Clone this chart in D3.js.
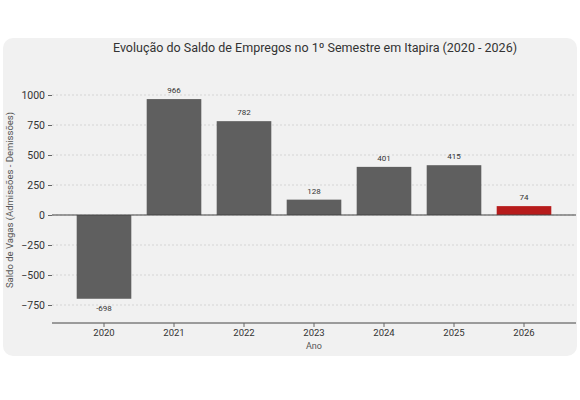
<!DOCTYPE html>
<html><head><meta charset="utf-8">
<script src="https://cdn.jsdelivr.net/npm/d3@7"></script>
<style>body{margin:0;background:#fff}svg{display:block}text{font-family:Roboto,sans-serif}</style>
</head><body><svg width="580" height="400"></svg>
<script>
const years = ["2020","2021","2022","2023","2024","2025","2026"];
const saldo = [-698, 966, 782, 128, 401, 415, 74];
const yTicks = [1000, 750, 500, 250, 0, -250, -500, -750];
const highlightYear = "2026";

const svg = d3.select("svg");
svg.append("rect").attr("x",3).attr("y",38).attr("width",574).attr("height",318).attr("rx",10).attr("fill","#f1f1f1");
const x = d3.scaleBand().domain(years).range([69,559]).paddingInner(0.22).paddingOuter(0.11);
const y = d3.scaleLinear().domain([-750,1000]).range([305,95]);
const L = 52, R = 576;
svg.append("g").selectAll("line").data(yTicks).join("line")
  .attr("x1",L).attr("x2",R).attr("y1",d=>y(d)).attr("y2",d=>y(d))
  .attr("stroke","#cfcfcf").attr("stroke-width",0.8).attr("stroke-dasharray","2,2");
svg.append("g").selectAll("rect").data(years).join("rect")
  .attr("x",d=>x(d)).attr("width",x.bandwidth())
  .attr("y",(d,i)=>y(Math.max(0,saldo[i]))).attr("height",(d,i)=>Math.abs(y(saldo[i])-y(0)))
  .attr("fill",d=>d===highlightYear?"#b71c1c":"#5f5f5f");
svg.append("line").attr("x1",L).attr("x2",R).attr("y1",y(0)).attr("y2",y(0)).attr("stroke","#444").attr("stroke-width",1.2);
svg.append("g").selectAll("text").data(years).join("text")
  .attr("x",d=>x(d)+x.bandwidth()/2)
  .attr("y",(d,i)=>saldo[i]>=0?y(saldo[i])-6:y(saldo[i])+12)
  .attr("text-anchor","middle").attr("font-size",8).attr("fill","#333")
  .text((d,i)=>saldo[i]);
const ya = svg.append("g").attr("transform",`translate(${L},0)`)
  .call(d3.axisLeft(y).tickValues(yTicks).tickFormat(d3.format("d")).tickSize(4).tickPadding(3));
ya.select(".domain").remove();
ya.selectAll("line").attr("stroke","#666");
ya.selectAll("text").attr("font-size",10.5).attr("fill","#333");
const xa = svg.append("g").attr("transform","translate(0,323)")
  .call(d3.axisBottom(x).tickSize(4).tickPadding(2));
xa.select(".domain").attr("d",`M${L},0H${R}`).attr("stroke","#444");
xa.selectAll("line").attr("stroke","#666");
xa.selectAll("text").attr("font-size",9.5).attr("fill","#333");
svg.append("text").attr("x",315).attr("y",52).attr("text-anchor","middle").attr("font-size",12.5).attr("fill","#333")
  .text("Evolução do Saldo de Empregos no 1º Semestre em Itapira (2020 - 2026)");
svg.append("text").attr("x",314).attr("y",349).attr("text-anchor","middle").attr("font-size",9).attr("fill","#555").text("Ano");
svg.append("text").attr("transform","translate(13,200) rotate(-90)").attr("text-anchor","middle").attr("font-size",9.5).attr("fill","#555")
  .text("Saldo de Vagas (Admissões - Demissões)");
</script></body></html>
